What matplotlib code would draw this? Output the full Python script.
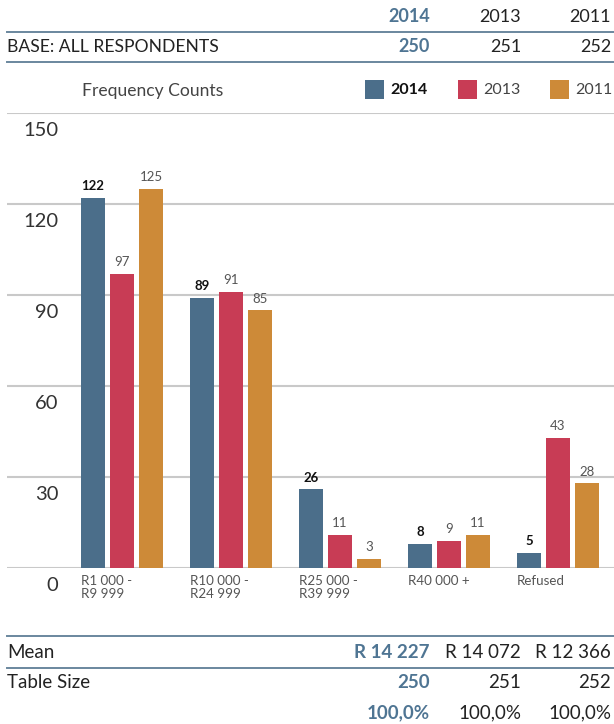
import matplotlib
matplotlib.use("Agg")
import matplotlib.pyplot as plt
from matplotlib.patches import Rectangle
import numpy as np

plt.rcParams['font.family'] = ['Lato', 'DejaVu Sans']

# dados
categorias = ["R1 000 -\nR9 999", "R10 000 -\nR24 999", "R25 000 -\nR39 999", "R40 000 +", "Refused"]
anos = ["2014", "2013", "2011"]
v2014 = [122, 89, 26, 8, 5]
v2013 = [97, 91, 11, 9, 43]
v2011 = [125, 85, 3, 11, 28]
base = ["250", "251", "252"]
media = ["R 14 227", "R 14 072", "R 12 366"]
tamanho = ["250", "251", "252"]
percent = ["100,0%", "100,0%", "100,0%"]
yticks = [0, 30, 60, 90, 120, 150]

cores = ["#4b6e8a", "#c83c55", "#cd8a38"]
azul_txt = "#4f7593"
linha_cor = "#6a879e"
W, H = 614, 724

fig = plt.figure(figsize=(W / 100, H / 100), dpi=100)

def fx(x):
    return x / W

def fy(y):
    return 1 - y / H

# colunas da tabela (borda direita)
col_x = [430, 521, 611]

def linha_tabela(y):
    fig.add_artist(plt.Line2D([fx(7), fx(614)], [fy(y), fy(y)], color=linha_cor, lw=1.4))

# cabecalho
for i, a in enumerate(anos):
    fig.text(fx(col_x[i]), fy(17), a, ha="right", va="center", fontsize=13,
             color=azul_txt if i == 0 else "#222222", fontweight="bold" if i == 0 else "normal")
linha_tabela(32)
fig.text(fx(7), fy(47), "BASE: ALL RESPONDENTS", ha="left", va="center", fontsize=12.6, color="#222222")
for i, b in enumerate(base):
    fig.text(fx(col_x[i]), fy(47), b, ha="right", va="center", fontsize=13,
             color=azul_txt if i == 0 else "#222222", fontweight="bold" if i == 0 else "normal")
linha_tabela(62)

# legenda
fig.text(fx(82), fy(91), "Frequency Counts", ha="left", va="center", fontsize=12.6, color="#444444")
leg_x = [365, 458, 550]
for i, a in enumerate(anos):
    fig.add_artist(Rectangle((fx(leg_x[i]), fy(99)), fx(19), 19 / H, transform=fig.transFigure,
                             facecolor=cores[i], edgecolor="none"))
    fig.text(fx(leg_x[i] + 25), fy(90), a, ha="left", va="center", fontsize=11.5,
             color="#111111" if i == 0 else "#444444", fontweight="bold" if i == 0 else "normal")

# grafico de barras
ax = fig.add_axes([fx(7), fy(568), fx(607), (568 - 113) / H])
ax.set_ylim(0, 150)
ax.set_xlim(-1.055, 4.514)
for s in ax.spines.values():
    s.set_visible(False)
ax.set_xticks([])
ax.set_yticks([])
for t in yticks:
    ax.axhline(t, color="#c9c9c9", lw=1.5, zorder=0)
    ax.annotate(str(t), (0.085, t), xycoords=ax.get_yaxis_transform(), xytext=(0, -12.5),
                textcoords="offset points", ha="right", va="center", fontsize=14.5,
                color="#333333")

x = np.arange(len(categorias))
passo = 29 / 109
larg = 24 / 109
for i, vals in enumerate([v2014, v2013, v2011]):
    pos = x + (i - 1) * passo
    ax.bar(pos, vals, width=larg, color=cores[i], zorder=2)
    for p, v in zip(pos, vals):
        ax.annotate(str(v), (p, v), xytext=(0, 4), textcoords="offset points", ha="center", va="bottom",
                    fontsize=9.5, color="#111111" if i == 0 else "#555555",
                    fontweight="bold" if i == 0 else "normal")

for xi, c in zip(x, categorias):
    ax.annotate(c, (xi - passo - larg / 2, 0), xytext=(0, -5), textcoords="offset points",
                ha="left", va="top", fontsize=9.6, color="#555555", linespacing=1.1)

# tabela inferior
linha_tabela(636)
fig.text(fx(7), fy(653), "Mean", ha="left", va="center", fontsize=13.5, color="#222222")
for i, m in enumerate(media):
    fig.text(fx(col_x[i]), fy(653), m, ha="right", va="center", fontsize=13.5,
             color=azul_txt if i == 0 else "#222222", fontweight="bold" if i == 0 else "normal")
linha_tabela(668)
fig.text(fx(7), fy(683), "Table Size", ha="left", va="center", fontsize=13.5, color="#222222")
for i, t in enumerate(tamanho):
    fig.text(fx(col_x[i]), fy(683), t, ha="right", va="center", fontsize=13.5,
             color=azul_txt if i == 0 else "#222222", fontweight="bold" if i == 0 else "normal")
for i, p in enumerate(percent):
    fig.text(fx(col_x[i]), fy(713), p, ha="right", va="center", fontsize=13.5,
             color=azul_txt if i == 0 else "#222222", fontweight="bold" if i == 0 else "normal")

fig.savefig("out.png", dpi=100)
